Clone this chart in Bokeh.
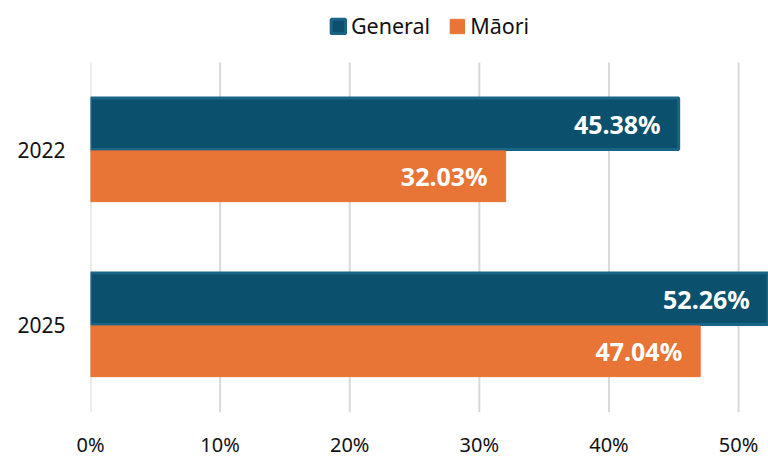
from bokeh.plotting import figure
from bokeh.models import (ColumnDataSource, LabelSet, Legend, LegendItem,
                          FixedTicker, PrintfTickFormatter, Range1d)
from bokeh.core.properties import value
from bokeh.embed import file_html
from bokeh.resources import INLINE

years = ["2022", "2025"]
general = [45.38, 52.26]
maori = [32.03, 47.04]
x_ticks = [0, 10, 20, 30, 40, 50]

FONT = "Noto Sans"
C_GEN = "#0b506c"
C_GEN_LINE = "#1a6485"
C_MAO = "#e87435"

n = len(years)
ypos = [n - 0.5 - i for i in range(n)]          # category centres, first on top
src = ColumnDataSource(dict(
    y_gen=[y + 0.15 for y in ypos],
    y_mao=[y - 0.15 for y in ypos],
    general=general,
    maori=maori,
    gen_lbl=[f"{v:.2f}%" for v in general],
    mao_lbl=[f"{v:.2f}%" for v in maori],
))

p = figure(width=768, height=461, output_backend="svg", toolbar_location=None,
           x_range=Range1d(0, 52.31), y_range=Range1d(0, n * 412 / 350),
           min_border_left=90, min_border_right=0, min_border_top=0,
           min_border_bottom=49)
p.outline_line_color = None
p.background_fill_color = "white"
p.xgrid.grid_line_color = None
p.ygrid.grid_line_color = None

# vertical grid lines spanning only the category band
grid = ColumnDataSource(dict(x=x_ticks, y0=[0] * len(x_ticks), y1=[n] * len(x_ticks)))
p.segment(x0="x", x1="x", y0="y0", y1="y1", source=grid,
          line_color="#d9d9d9", line_width=2)

r_gen = p.hbar(y="y_gen", right="general", left=0, height=0.295, source=src,
               fill_color=C_GEN, line_color=C_GEN_LINE, line_width=3)
r_mao = p.hbar(y="y_mao", right="maori", left=0, height=0.29, source=src,
               fill_color=C_MAO, line_color=C_MAO, line_width=1)

for col, lbl, yc in (("general", "gen_lbl", "y_gen"), ("maori", "mao_lbl", "y_mao")):
    p.add_layout(LabelSet(x=col, y=yc, text=lbl, source=src, x_offset=-18,
                          text_align="right", text_baseline="middle",
                          text_color="white", text_font=value(FONT),
                          text_font_style="bold", text_font_size="25px"))

p.xaxis.ticker = FixedTicker(ticks=x_ticks)
p.xaxis.formatter = PrintfTickFormatter(format="%d%%")
p.yaxis.ticker = FixedTicker(ticks=ypos)
overrides = {}
for y, lab in zip(ypos, years):
    overrides[y] = lab
    overrides[str(y)] = lab
p.yaxis.major_label_overrides = overrides
for ax in (p.xaxis, p.yaxis):
    ax.axis_line_color = None
    ax.major_tick_line_color = None
    ax.minor_tick_line_color = None
    ax.major_tick_out = 0
    ax.major_tick_in = 0
    ax.minor_tick_out = 0
    ax.minor_tick_in = 0
    ax.major_label_text_font = FONT
    ax.major_label_text_color = "#111111"
p.xaxis.major_label_text_font_size = "20px"
p.yaxis.major_label_text_font_size = "21px"
p.xaxis.major_label_standoff = 18
p.yaxis.major_label_standoff = 25

legend = Legend(items=[LegendItem(label="General", renderers=[r_gen]),
                       LegendItem(label="Māori", renderers=[r_mao])],
                orientation="horizontal", location="top_center",
                label_text_font=FONT, label_text_font_size="21.5px",
                label_text_color="#111111", glyph_width=18, glyph_height=18,
                label_standoff=4, spacing=18, border_line_color=None,
                background_fill_alpha=0, padding=2, margin=11)
p.add_layout(legend, "center")

open("out.html", "w").write(file_html(p, INLINE))
